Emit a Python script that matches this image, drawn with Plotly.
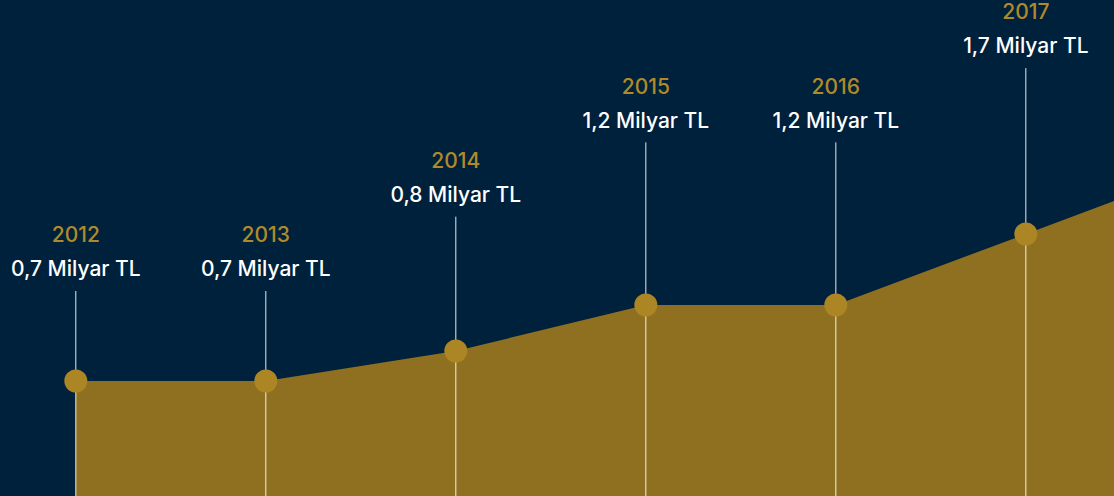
import plotly.graph_objects as go

# Data
years = [2012, 2013, 2014, 2015, 2016, 2017]
values = [0.7, 0.7, 0.8, 1.2, 1.2, 1.7]          # billion TL (labels)
value_labels = ["0,7 Milyar TL", "0,7 Milyar TL", "0,8 Milyar TL",
                "1,2 Milyar TL", "1,2 Milyar TL", "1,7 Milyar TL"]
# Visual height of the area curve at each year
levels = [115, 115, 145, 191, 191, 262]
tail_level = 295      # where the curve leaves the right edge

BG = "#00213B"
AREA = "#8E7020"
DOT = "#AC8524"
YEAR_C = "#B08A2A"
FONT = "Inter"

x_min, x_max = 2011.601, 2017.464
H = 496

# label tiers from value rank
uniq = sorted(set(values))
rank = [uniq.index(v) for v in values]
val_y = [225 + 74.3 * r for r in rank]
year_y = [v + 34 for v in val_y]
line_top = [v - 20 for v in val_y]

fig = go.Figure()

# Area
fig.add_trace(go.Scatter(
    x=years + [x_max], y=levels + [tail_level],
    mode="lines", line=dict(width=0, color=AREA),
    fill="tozeroy", fillcolor=AREA, hoverinfo="skip", showlegend=False))

# Vertical white lines
lx, ly = [], []
for x, t in zip(years, line_top):
    lx += [x, x, None]
    ly += [t, 0, None]
fig.add_trace(go.Scatter(x=lx, y=ly, mode="lines",
                         line=dict(color="rgba(255,255,255,0.9)", width=1),
                         hoverinfo="skip", showlegend=False))

# Dots
fig.add_trace(go.Scatter(x=years, y=levels, mode="markers",
                         marker=dict(size=23, color=DOT, line=dict(width=0)),
                         hoverinfo="skip", showlegend=False))

# Labels
fig.add_trace(go.Scatter(x=years, y=year_y, mode="text",
                         text=[str(y) for y in years],
                         textfont=dict(family=FONT, size=21, color=YEAR_C, weight=500),
                         textposition="middle center",
                         hoverinfo="skip", showlegend=False))
fig.add_trace(go.Scatter(x=years, y=val_y, mode="text",
                         text=value_labels,
                         textfont=dict(family=FONT, size=21, color="white", weight=500),
                         textposition="middle center",
                         hoverinfo="skip", showlegend=False))

fig.update_layout(
    width=1114, height=H,
    margin=dict(l=0, r=0, t=0, b=0),
    paper_bgcolor=BG, plot_bgcolor=BG,
    xaxis=dict(range=[x_min, x_max], visible=False, fixedrange=True),
    yaxis=dict(range=[0, H], visible=False, fixedrange=True),
)

fig.write_html("out.html")
